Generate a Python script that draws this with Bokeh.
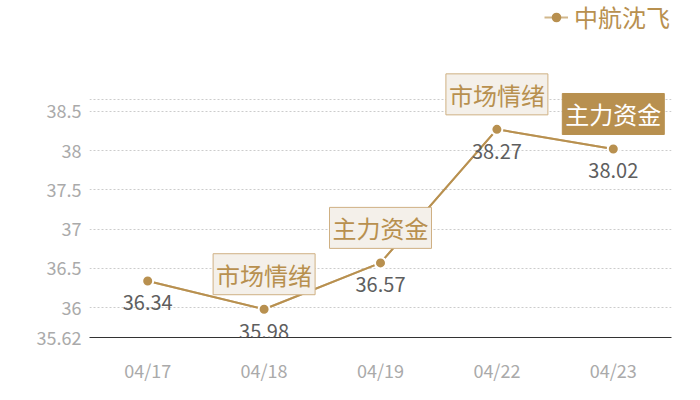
from bokeh.plotting import figure
from bokeh.models import (ColumnDataSource, FactorRange, Range1d, FixedTicker,
                          CustomJSTickFormatter, Grid, Legend, LegendItem, LabelSet, Label)
from bokeh.core.properties import value
from bokeh.embed import file_html
from bokeh.resources import INLINE

# ---- data ----
dates = ["04/17", "04/18", "04/19", "04/22", "04/23"]
prices = [36.34, 35.98, 36.57, 38.27, 38.02]
series_name = "中航沈飞"

ann_dates = ["04/18", "04/19", "04/22", "04/23"]
ann_texts = ["市场情绪", "主力资金", "市场情绪", "主力资金"]
ann_filled = [False, False, False, True]

y_ticks = [35.62, 36, 36.5, 37, 37.5, 38, 38.5]
y_min = 35.62
y_max = 38.65

# ---- styles / layout ----
GOLD = "#b8904f"
FONT = "Noto Sans CJK SC"
W, H = 700, 400
LEFT, RIGHT, BOTTOM = 89, 29, 63
PLOT_TOP = 99  # pixel row where the value axis ends (y_max)
frame_h = H - BOTTOM
# extend the view so that annotations above y_max are not clipped
y_view_end = y_min + (y_max - y_min) * frame_h / (frame_h - PLOT_TOP)

p = figure(width=W, height=H, output_backend="svg", toolbar_location=None,
           x_range=FactorRange(factors=dates, range_padding=0),
           y_range=Range1d(y_min, y_view_end),
           min_border_left=LEFT, min_border_right=RIGHT, min_border_top=0,
           min_border_bottom=BOTTOM)
p.outline_line_color = None
p.background_fill_color = "white"

# grid
p.xgrid.visible = False
p.ygrid.visible = False
grid_ticks = [t for t in y_ticks if t > y_min] + [y_max]
p.add_layout(Grid(dimension=1, ticker=FixedTicker(ticks=grid_ticks),
                  grid_line_color="#cccccc", grid_line_dash="2 2",
                  grid_line_width=1))

# axes
p.yaxis.ticker = FixedTicker(ticks=y_ticks)
p.yaxis.formatter = CustomJSTickFormatter(code="return String(Math.round(tick*100)/100);")
p.yaxis.axis_line_color = None
p.yaxis.major_tick_line_color = None
p.yaxis.major_tick_out = 0
p.yaxis.major_tick_in = 0
p.yaxis.minor_tick_line_color = None
p.yaxis.major_label_text_font = FONT
p.yaxis.major_label_text_font_size = "18px"
p.yaxis.major_label_text_color = "#aaaaaa"
p.yaxis.major_label_standoff = 8

p.xaxis.axis_line_color = "#333333"
p.xaxis.axis_line_width = 1
p.xaxis.major_tick_line_color = None
p.xaxis.major_tick_out = 0
p.xaxis.major_tick_in = 0
p.xaxis.minor_tick_line_color = None
p.xaxis.major_label_text_font = FONT
p.xaxis.major_label_text_font_size = "18px"
p.xaxis.major_label_text_color = "#aaaaaa"
p.xaxis.major_label_standoff = 19

src = ColumnDataSource(dict(x=dates, y=prices, lbl=[f"{v:.2f}" for v in prices]))

# legend-styled copies (fully covered by the main glyphs drawn on top)
ln_leg = p.line("x", "y", source=src, line_color=GOLD, line_alpha=0.65, line_width=2)
sc_leg = p.scatter("x", "y", source=src, size=6, fill_color=GOLD, line_color=None)

ln = p.line("x", "y", source=src, line_color=GOLD, line_width=2)
sc = p.scatter("x", "y", source=src, size=11, fill_color=GOLD,
               line_color="white", line_width=2)

# value labels below the points
p.add_layout(LabelSet(x="x", y="y", text="lbl", source=src, y_offset=-22,
                      text_font=value(FONT), text_font_size="20px",
                      text_color="#5e5e5e", text_align="center",
                      text_baseline="middle"))

# annotation boxes
lookup = dict(zip(dates, prices))
for d, t, filled in zip(ann_dates, ann_texts, ann_filled):
    p.add_layout(Label(x=dates.index(d) + 0.5, y=lookup[d], text=t, y_offset=35,
                       text_font=FONT, text_font_size="24px",
                       text_line_height=0.95,
                       text_color="white" if filled else GOLD,
                       text_align="center", text_baseline="middle",
                       background_fill_color=GOLD if filled else "#f4f0ea",
                       border_line_color=GOLD if filled else "#cfb083",
                       border_line_width=1, padding=3))

# legend
legend = Legend(items=[LegendItem(label=series_name, renderers=[ln_leg, sc_leg])],
                location=(455, 303), orientation="horizontal",
                border_line_color=None, background_fill_alpha=0,
                padding=0, margin=0, glyph_width=24, glyph_height=28,
                label_standoff=6,
                label_text_font=FONT, label_text_font_size="24px",
                label_text_color=GOLD)
p.add_layout(legend, "center")

open("out.html", "w").write(file_html(p, INLINE))
